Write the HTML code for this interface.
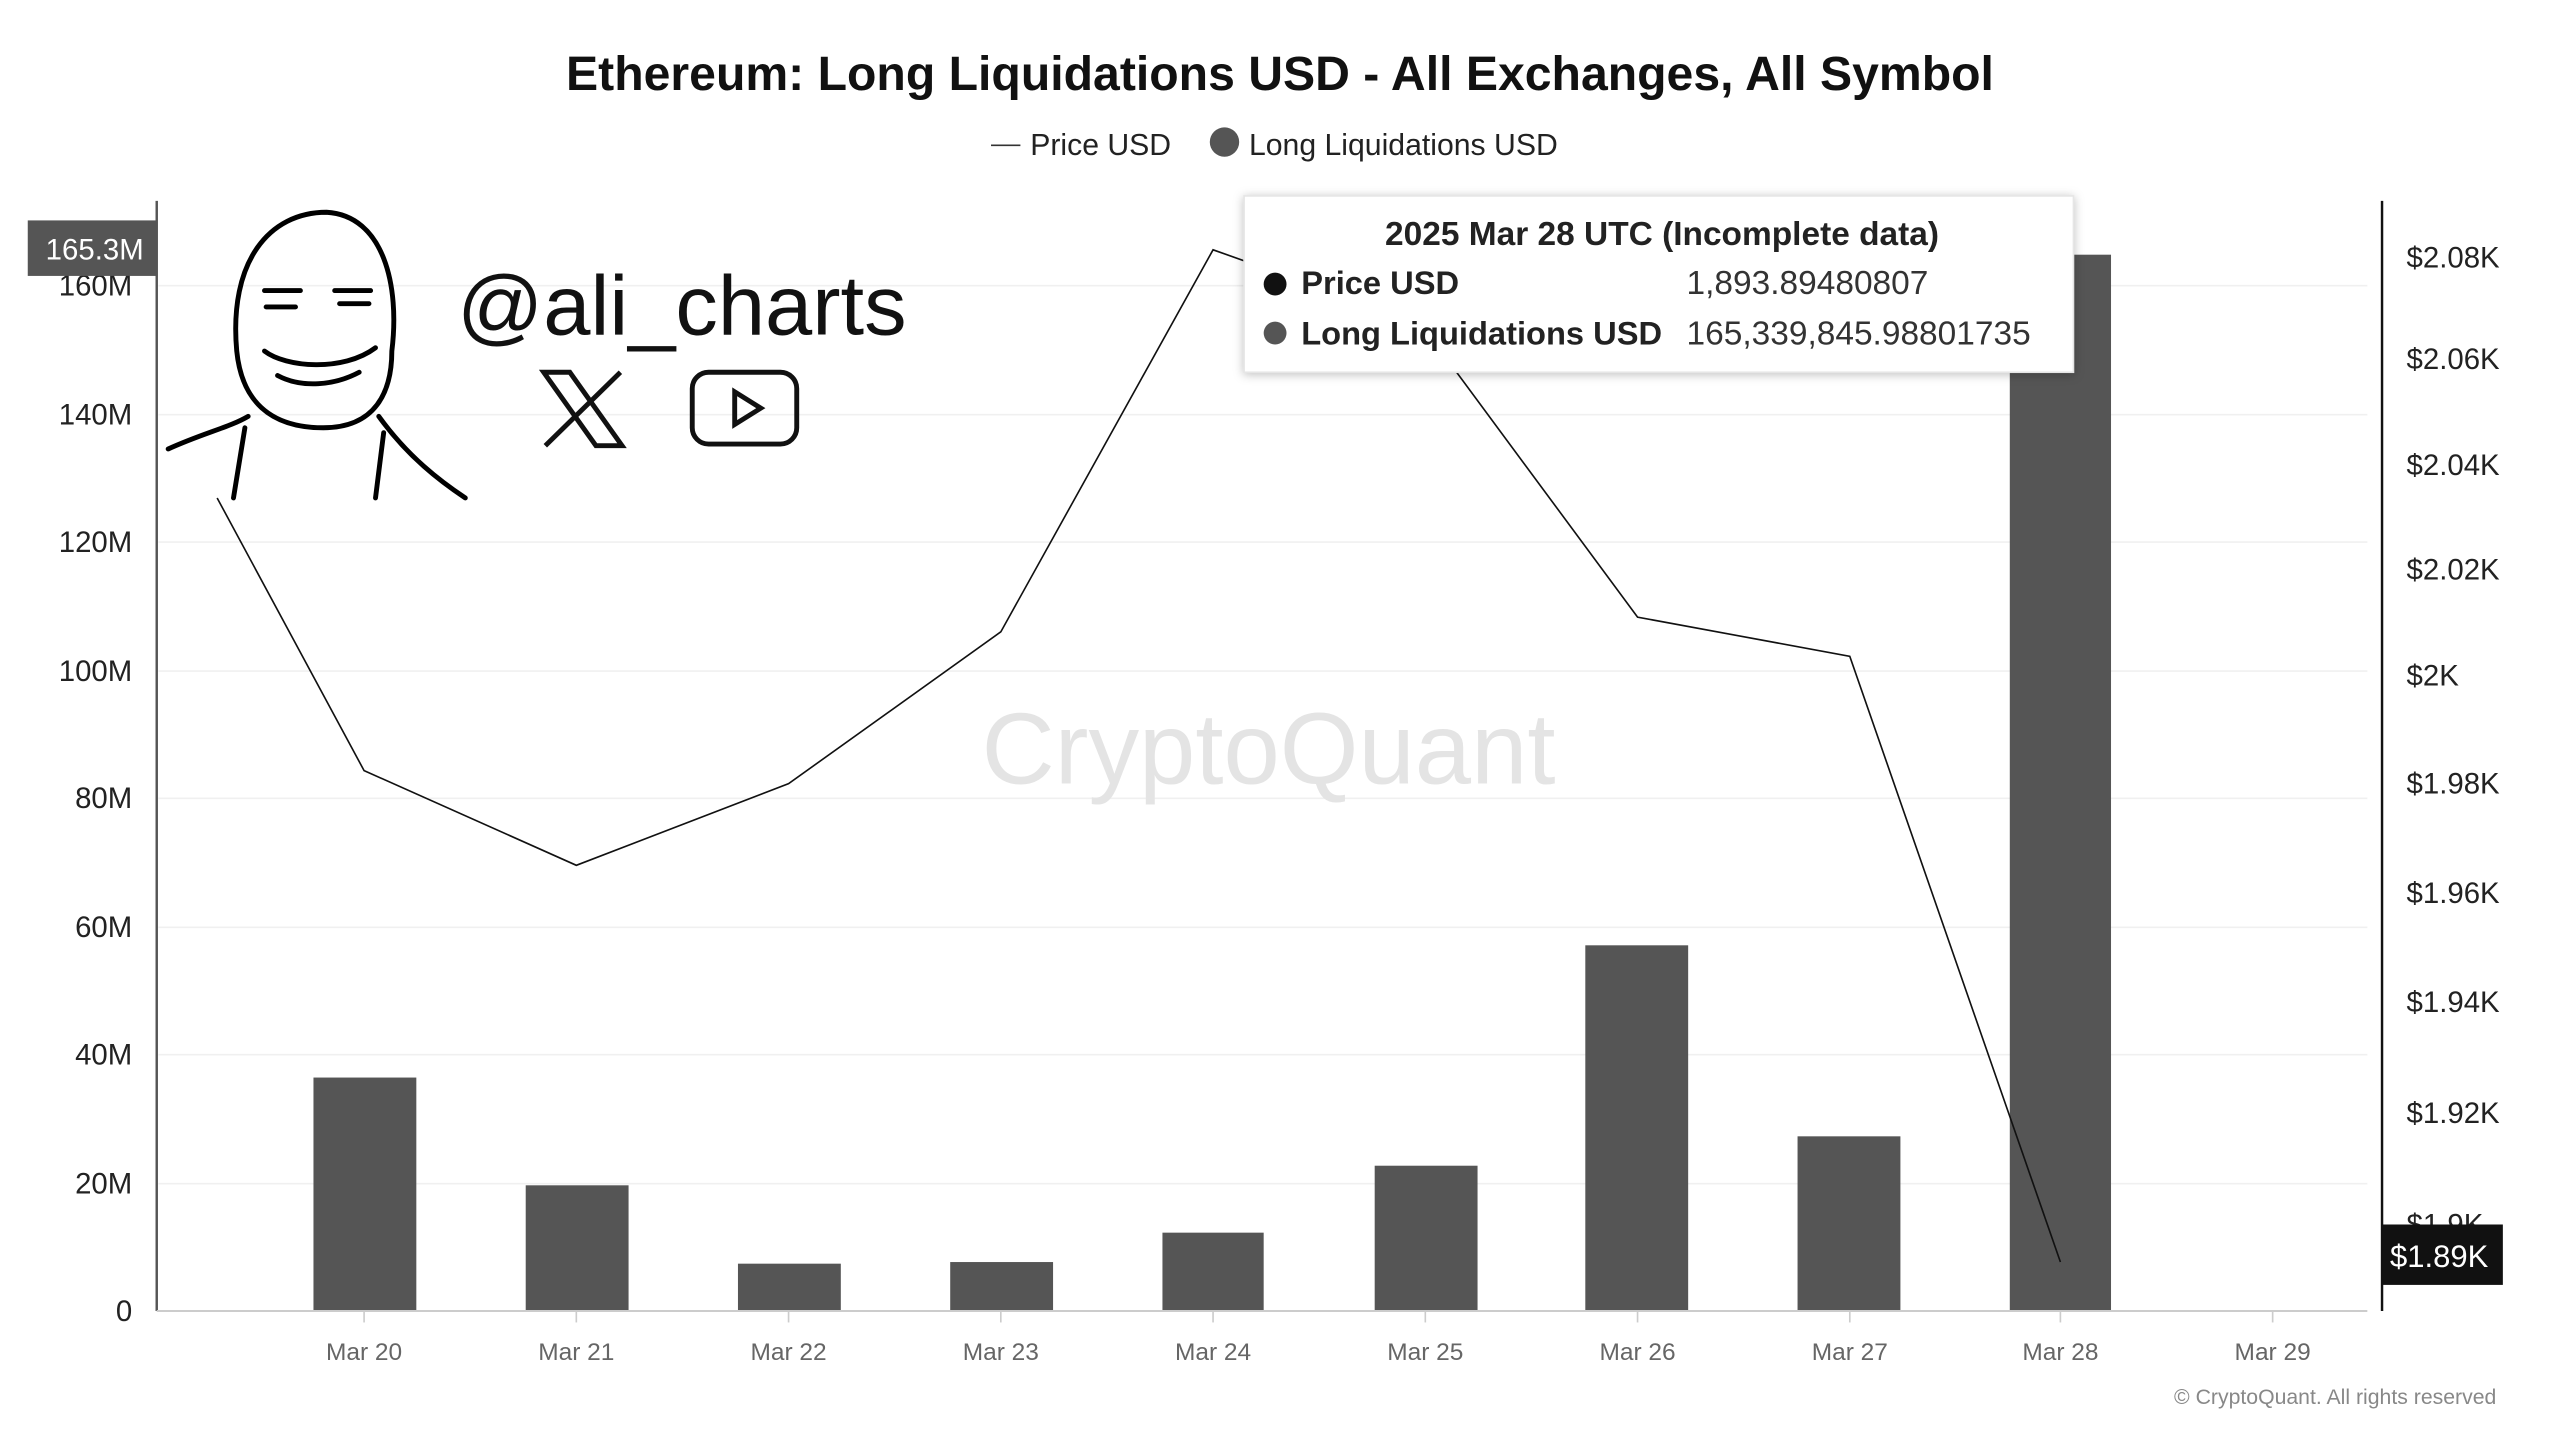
<!DOCTYPE html>
<html><head><meta charset="utf-8"><style>html,body{margin:0;padding:0;background:#fff}svg{display:block}text{font-family:"Liberation Sans",sans-serif}</style></head><body>
<svg width="2560" height="1440" viewBox="0 0 1568 882" xmlns="http://www.w3.org/2000/svg">
<rect width="1568" height="882" fill="#fff"/>
<text x="784" y="55" text-anchor="middle" font-size="29.5" font-weight="bold" fill="#111">Ethereum: Long Liquidations USD - All Exchanges, All Symbol</text>
<line x1="607" y1="89" x2="625" y2="89" stroke="#333" stroke-width="1"/>
<text x="631" y="95" font-size="18.5" fill="#222">Price USD</text>
<circle cx="750" cy="87" r="9" fill="#555"/>
<text x="765" y="95" font-size="18.5" fill="#222">Long Liquidations USD</text>
<g stroke="#f0f0f0" stroke-width="1">
<line x1="97" y1="725" x2="1450" y2="725"/><line x1="97" y1="646" x2="1450" y2="646"/><line x1="97" y1="568" x2="1450" y2="568"/><line x1="97" y1="489" x2="1450" y2="489"/><line x1="97" y1="411" x2="1450" y2="411"/><line x1="97" y1="332" x2="1450" y2="332"/><line x1="97" y1="254" x2="1450" y2="254"/><line x1="97" y1="175" x2="1450" y2="175"/>
</g>
<text x="777" y="480" text-anchor="middle" font-size="62" fill="#e4e4e4">CryptoQuant</text>
<g font-size="18" fill="#222" text-anchor="end">
<text x="81" y="809">0</text><text x="81" y="731">20M</text><text x="81" y="652">40M</text><text x="81" y="574">60M</text><text x="81" y="495">80M</text><text x="81" y="417">100M</text><text x="81" y="338">120M</text><text x="81" y="260">140M</text><text x="81" y="181">160M</text>
</g>
<g font-size="18" fill="#222">
<text x="1474" y="164">$2.08K</text><text x="1474" y="226">$2.06K</text><text x="1474" y="291">$2.04K</text><text x="1474" y="355">$2.02K</text><text x="1474" y="420">$2K</text><text x="1474" y="486">$1.98K</text><text x="1474" y="553">$1.96K</text><text x="1474" y="620">$1.94K</text><text x="1474" y="688">$1.92K</text><text x="1474" y="756">$1.9K</text>
</g>
<g fill="#555">
<rect x="192" y="660" width="63" height="143"/><rect x="322" y="726" width="63" height="77"/><rect x="452" y="774" width="63" height="29"/><rect x="582" y="773" width="63" height="30"/><rect x="712" y="755" width="62" height="48"/><rect x="842" y="714" width="63" height="89"/><rect x="971" y="579" width="63" height="224"/><rect x="1101" y="696" width="63" height="107"/><rect x="1231" y="156" width="62" height="647"/>
</g>
<polyline points="133,305 223,472 353,530 483,480 613,387 743,153 870,198 1003,378 1133,402 1262,773" fill="none" stroke="#111" stroke-width="1"/>
<line x1="96" y1="123" x2="96" y2="803" stroke="#555" stroke-width="1.5"/>
<line x1="1459" y1="123" x2="1459" y2="803" stroke="#111" stroke-width="1.5"/>
<line x1="96" y1="803" x2="1450" y2="803" stroke="#ccc" stroke-width="1.2"/>
<g stroke="#ccc"><line x1="223" y1="803" x2="223" y2="810"/><line x1="353" y1="803" x2="353" y2="810"/><line x1="483" y1="803" x2="483" y2="810"/><line x1="613" y1="803" x2="613" y2="810"/><line x1="743" y1="803" x2="743" y2="810"/><line x1="873" y1="803" x2="873" y2="810"/><line x1="1003" y1="803" x2="1003" y2="810"/><line x1="1133" y1="803" x2="1133" y2="810"/><line x1="1262" y1="803" x2="1262" y2="810"/><line x1="1392" y1="803" x2="1392" y2="810"/></g>
<g font-size="15" fill="#666" text-anchor="middle">
<text x="223" y="833">Mar 20</text><text x="353" y="833">Mar 21</text><text x="483" y="833">Mar 22</text><text x="613" y="833">Mar 23</text><text x="743" y="833">Mar 24</text><text x="873" y="833">Mar 25</text><text x="1003" y="833">Mar 26</text><text x="1133" y="833">Mar 27</text><text x="1262" y="833">Mar 28</text><text x="1392" y="833">Mar 29</text>
</g>
<text x="1529" y="860" text-anchor="end" font-size="13" fill="#888">© CryptoQuant. All rights reserved</text>
<rect x="17" y="135" width="79" height="34" fill="#555"/>
<text x="58" y="159" text-anchor="middle" font-size="18" fill="#fff">165.3M</text>
<rect x="1459" y="750" width="74" height="37" fill="#111"/>
<text x="1494" y="776" text-anchor="middle" font-size="19" fill="#fff">$1.89K</text>
<rect x="762" y="120" width="508" height="108" fill="#fff" stroke="#e6e6e6" style="filter:drop-shadow(0 1px 3px rgba(0,0,0,0.25))"/>
<text x="1018" y="150" text-anchor="middle" font-size="20.5" font-weight="bold" fill="#222">2025 Mar 28 UTC (Incomplete data)</text>
<circle cx="781" cy="174" r="7" fill="#111"/><text x="797" y="180" font-size="20" font-weight="bold" fill="#222">Price USD</text><text x="1033" y="180" font-size="20.5" fill="#333">1,893.89480807</text>
<circle cx="781" cy="204" r="7" fill="#555"/><text x="797" y="211" font-size="20" font-weight="bold" fill="#222">Long Liquidations USD</text><text x="1033" y="211" font-size="20.5" fill="#333">165,339,845.98801735</text>
<g fill="none" stroke="#000" stroke-width="3" stroke-linecap="round">
<path d="M145,215 C140,160 165,130 200,130 C235,132 245,175 240,215 C240,240 230,262 198,262 C165,262 148,245 145,215 Z"/>
<path d="M162,178 h22 M205,178 h22 M163,188 h18 M208,186 h18" />
<path d="M162,215 C175,225 210,228 230,213"/><path d="M170,230 C185,238 205,236 220,228"/>
<path d="M103,275 C125,265 140,262 152,255 M232,255 C250,280 270,295 285,305 M150,262 L143,305 M235,265 L230,305"/>
</g>
<text x="280" y="205" font-size="52" fill="#111">@ali_charts</text>
<g fill="none" stroke="#111" stroke-width="3"><path d="M333,228 L365,273 H381 L349,228 Z"/><line x1="380" y1="228" x2="334" y2="273"/>
<rect x="424" y="228" width="64" height="44" rx="10"/><path d="M450,240 L466,250 L450,260 Z"/></g>
</svg>
</body></html>
